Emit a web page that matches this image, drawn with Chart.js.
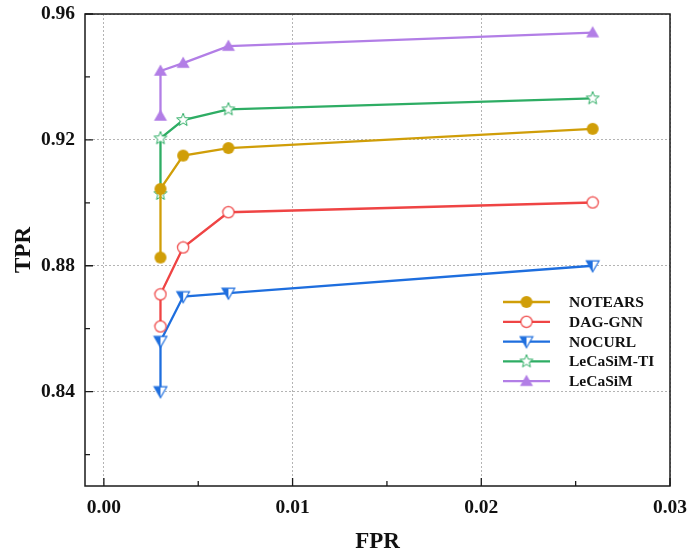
<!DOCTYPE html>
<html>
<head>
<meta charset="utf-8">
<script src="https://cdn.jsdelivr.net/npm/chart.js@4.4.1/dist/chart.umd.min.js"></script>
<style>
  html, body { margin: 0; padding: 0; background: #fff; }
  #wrap { width: 688px; height: 558px; }
</style>
</head>
<body>
<div id="wrap"><canvas id="roc"></canvas></div>
<script>
  "use strict";

  /* ---------- Data ---------- */
  var FPR = [0.0030, 0.0030, 0.0042, 0.0066, 0.0259];
  var TPR_NOTEARS = [0.8826, 0.9044, 0.9150, 0.9174, 0.9235];
  var TPR_DAGGNN = [0.8607, 0.8709, 0.8858, 0.8970, 0.9001];
  var TPR_NOCURL = [0.8400, 0.8560, 0.8702, 0.8713, 0.8800];
  var TPR_LECASIM_TI = [0.9028, 0.9205, 0.9263, 0.9297, 0.9332];
  var TPR_LECASIM = [0.9276, 0.9419, 0.9444, 0.9498, 0.9541];
  var LABELS = ["NOTEARS", "DAG-GNN", "NOCURL", "LeCaSiM-TI", "LeCaSiM"];

  var X_TICKS = [0, 0.01, 0.02, 0.03];
  var X_MINOR = [0.005, 0.015, 0.025];
  var Y_TICKS = [0.84, 0.88, 0.92, 0.96];
  var Y_MINOR = [0.82, 0.86, 0.90, 0.94];

  var FONT = "'Liberation Serif', 'Times New Roman', serif";
  var ORANGE = "#D09E08", RED = "#EF4444", BLUE = "#1E6EDE", GREEN = "#2EAD64", PURPLE = "#B27EE6";

  /* ---------- Marker images ---------- */
  function marker(w, h, draw) {
    var c = document.createElement("canvas");
    c.width = w; c.height = h;
    draw(c.getContext("2d"), w / 2, h / 2);
    return c;
  }
  var M_NOTEARS = marker(14, 14, function (g, cx, cy) {
    g.fillStyle = ORANGE; g.beginPath(); g.arc(cx, cy, 6, 0, Math.PI * 2); g.fill();
  });
  var M_DAGGNN = marker(14, 14, function (g, cx, cy) {
    g.fillStyle = "#fff"; g.strokeStyle = RED; g.lineWidth = 1.2;
    g.beginPath(); g.arc(cx, cy, 5.6, 0, Math.PI * 2); g.fill(); g.stroke();
  });
  var M_NOCURL = marker(16, 16, function (g, cx, cy) {
    g.fillStyle = "#fff"; g.strokeStyle = BLUE; g.lineWidth = 1.2;
    g.beginPath(); g.moveTo(cx - 6.3, cy - 4.8); g.lineTo(cx + 6.3, cy - 4.8); g.lineTo(cx, cy + 6); g.closePath();
    g.fill(); g.stroke();
    g.fillStyle = BLUE;
    g.beginPath(); g.moveTo(cx - 6.3, cy - 4.8); g.lineTo(cx, cy - 4.8); g.lineTo(cx, cy + 6); g.closePath(); g.fill();
  });
  var M_TI = marker(16, 16, function (g, cx, cy) {
    g.fillStyle = "#fff"; g.strokeStyle = GREEN; g.lineWidth = 1;
    g.beginPath();
    for (var i = 0; i < 10; i++) {
      var r = i % 2 ? 2.9 : 6.8, a = -Math.PI / 2 + i * Math.PI / 5;
      g.lineTo(cx + r * Math.cos(a), cy + r * Math.sin(a));
    }
    g.closePath(); g.fill(); g.stroke();
  });
  var M_LECASIM = marker(16, 16, function (g, cx, cy) {
    g.fillStyle = PURPLE;
    g.beginPath(); g.moveTo(cx, cy - 6.5); g.lineTo(cx + 6.5, cy + 4.8); g.lineTo(cx - 6.5, cy + 4.8); g.closePath(); g.fill();
  });

  function pts(ys) {
    return FPR.map(function (x, i) { return { x: x, y: ys[i] }; });
  }
  function series(i, ys, color, img) {
    return {
      label: LABELS[i], data: pts(ys), showLine: true,
      borderColor: color, backgroundColor: color, borderWidth: 2.3,
      pointStyle: img, pointRadius: 7, pointHoverRadius: 7
    };
  }
  var SETS = [
    series(0, TPR_NOTEARS, ORANGE, M_NOTEARS),
    series(1, TPR_DAGGNN, RED, M_DAGGNN),
    series(2, TPR_NOCURL, BLUE, M_NOCURL),
    series(3, TPR_LECASIM_TI, GREEN, M_TI),
    series(4, TPR_LECASIM, PURPLE, M_LECASIM)
  ];

  /* ---------- Frame, inward ticks and legend ---------- */
  var framePlugin = {
    id: "frame",
    afterDraw: function (chart) {
      var ctx = chart.ctx, a = chart.chartArea, xs = chart.scales.x, ys = chart.scales.y;
      ctx.save();
      ctx.strokeStyle = "#1a1a1a";
      ctx.lineWidth = 1.5;
      ctx.strokeRect(a.left, a.top, a.right - a.left, a.bottom - a.top);
      ctx.lineWidth = 1.3;
      ctx.beginPath();
      X_TICKS.forEach(function (v) { var p = xs.getPixelForValue(v); ctx.moveTo(p, a.bottom); ctx.lineTo(p, a.bottom - 8); });
      X_MINOR.forEach(function (v) { var p = xs.getPixelForValue(v); ctx.moveTo(p, a.bottom); ctx.lineTo(p, a.bottom - 5); });
      Y_TICKS.forEach(function (v) { var p = ys.getPixelForValue(v); ctx.moveTo(a.left, p); ctx.lineTo(a.left + 8, p); });
      Y_MINOR.forEach(function (v) { var p = ys.getPixelForValue(v); ctx.moveTo(a.left, p); ctx.lineTo(a.left + 5, p); });
      ctx.stroke();

      // legend: line + marker, bold label
      var x0 = a.right - 167, x1 = a.right - 120, tx = a.right - 101, y0 = a.top + 288;
      ctx.font = "bold 15.5px " + FONT;
      ctx.textBaseline = "middle";
      ctx.fillStyle = "#111";
      SETS.forEach(function (s, i) {
        var y = y0 + i * 19.8;
        ctx.strokeStyle = s.borderColor; ctx.lineWidth = 2.3;
        ctx.beginPath(); ctx.moveTo(x0, y); ctx.lineTo(x1, y); ctx.stroke();
        var img = s.pointStyle;
        ctx.drawImage(img, (x0 + x1) / 2 - img.width / 2, y - img.height / 2);
        ctx.fillText(s.label, tx, y + 1);
      });
      ctx.restore();
    }
  };

  var gridOpts = { color: "#b4b4b4", lineWidth: 1, drawTicks: false };
  var borderOpts = { display: false, dash: [2, 2] };
  var tickFont = { family: FONT, size: 19.5, weight: "bold" };
  var titleFont = { family: FONT, size: 23, weight: "bold" };

  new Chart(document.getElementById("roc"), {
    type: "scatter",
    data: { datasets: SETS },
    options: {
      responsive: true, maintainAspectRatio: false, animation: false,
      devicePixelRatio: 1,
      layout: { padding: { top: 14, right: 18, left: 0, bottom: 0 } },
      plugins: { legend: { display: false }, tooltip: { enabled: false } },
      scales: {
        x: {
          type: "linear", min: -0.001, max: 0.03,
          grid: gridOpts, border: borderOpts,
          afterBuildTicks: function (s) { s.ticks = X_TICKS.map(function (v) { return { value: v }; }); },
          afterFit: function (s) { s.height = 72; s.paddingLeft = 0; s.paddingRight = 0; },
          ticks: { color: "#111", font: tickFont, padding: 10, maxRotation: 0,
            callback: function (v) { return v.toFixed(2); } },
          title: { display: true, text: "FPR", color: "#111", font: titleFont, padding: { top: 0, bottom: 2 } }
        },
        y: {
          type: "linear", min: 0.81, max: 0.96,
          grid: gridOpts, border: borderOpts,
          afterBuildTicks: function (s) { s.ticks = Y_TICKS.map(function (v) { return { value: v }; }); },
          afterFit: function (s) { s.width = 85; s.paddingTop = 0; s.paddingBottom = 0; },
          ticks: { color: "#111", font: tickFont, padding: 10,
            callback: function (v) { return v.toFixed(2); } },
          title: { display: true, text: "TPR", color: "#111", font: titleFont, padding: { top: 10, bottom: 0 } }
        }
      }
    },
    plugins: [framePlugin]
  });
</script>
</body>
</html>
